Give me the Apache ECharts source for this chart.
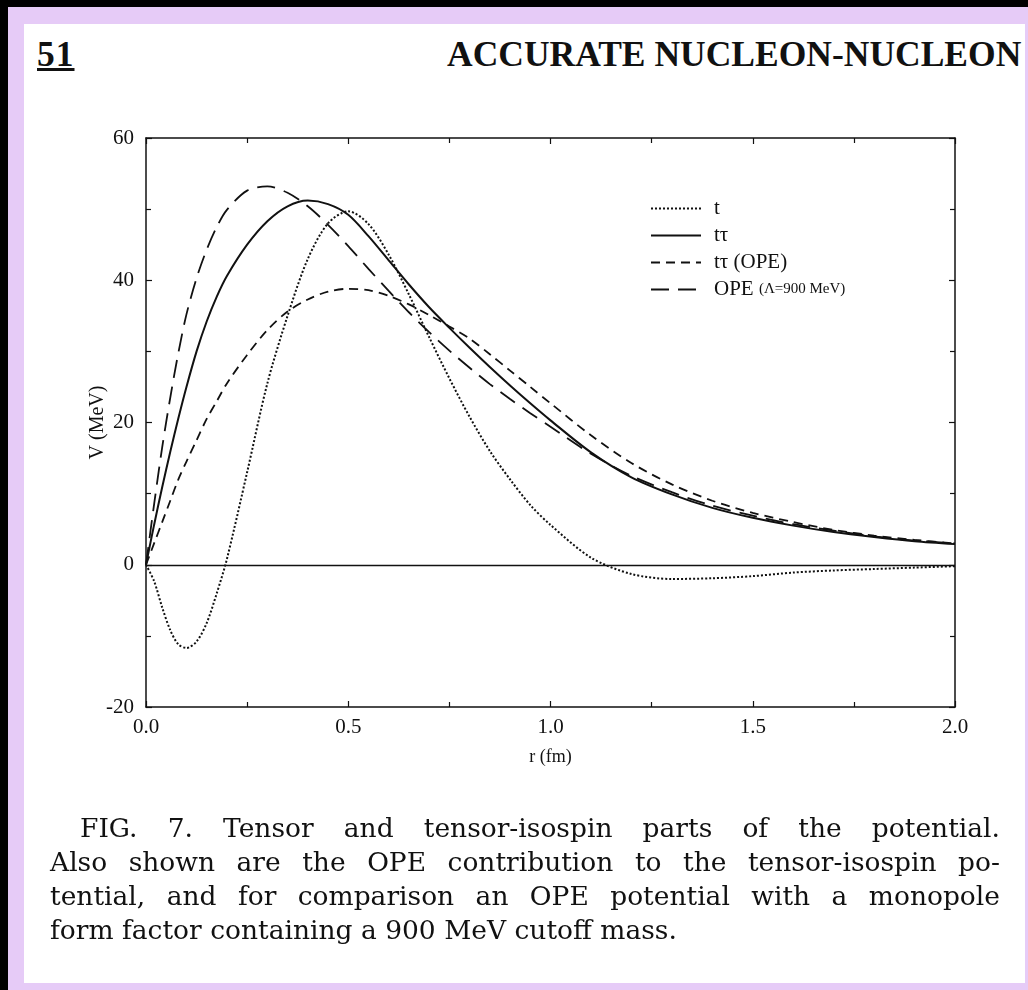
<!DOCTYPE html>
<html>
<head>
<meta charset="utf-8">
<script src="https://cdn.jsdelivr.net/npm/echarts@6/dist/echarts.min.js"></script>
<style>
  html, body { margin: 0; padding: 0; background: #000; }
  #frame { position: relative; width: 1028px; height: 990px; background: #000; overflow: hidden; }
  #lav { position: absolute; left: 8px; top: 7px; right: 0; bottom: 0; background: #e6cbf7; }
  #page { position: absolute; left: 24px; top: 24px; width: 1001px; height: 959px; background: #fff; }
  #chart { position: absolute; left: 0; top: 0; width: 1028px; height: 990px; }
  .hdr { position: absolute; font-family: 'Liberation Serif', serif; font-weight: bold; font-size: 35.5px; color: #111; white-space: nowrap; }
  .cap { position: absolute; left: 50px; width: 950px; font-family: 'DejaVu Serif', serif; font-size: 26.5px; color: #111; text-align: justify; text-align-last: justify; white-space: nowrap; }
</style>
</head>
<body>
<div id="frame">
  <div id="lav"></div>
  <div id="page"></div>
  <div class="hdr" style="left:37px; top:33px; text-decoration: underline; letter-spacing: 1px;">51</div>
  <div class="hdr" style="left:447px; top:33px;">ACCURATE NUCLEON-NUCLEON</div>
  <div id="chart"></div>
  <div class="cap" style="top:812px; left:80px; width:920px;">FIG. 7. Tensor and tensor-isospin parts of the potential.</div>
  <div class="cap" style="top:846px;">Also shown are the OPE contribution to the tensor-isospin po-</div>
  <div class="cap" style="top:880px;">tential, and for comparison an OPE potential with a monopole</div>
  <div class="cap" style="top:914px; text-align-last: left;">form factor containing a 900 MeV cutoff mass.</div>
</div>
<script>
// r (fm)
const rValues = [0, 0.02, 0.04, 0.06, 0.08, 0.1, 0.125, 0.15, 0.175, 0.2, 0.25, 0.3, 0.35, 0.4, 0.45, 0.5, 0.55, 0.6, 0.65, 0.7, 0.75, 0.8, 0.85, 0.9, 0.95, 1.0, 1.1, 1.2, 1.3, 1.4, 1.5, 1.6, 1.7, 1.8, 1.9, 2.0]
// V (MeV)
const tensor = [0, -2.3, -6, -9.2, -11.2, -11.7, -10.8, -8.2, -4, 0.8, 13, 25.5, 35, 43, 48, 49.7, 47.9, 43.6, 38, 32, 26.2, 20.8, 16, 12, 8.4, 5.6, 1.0, -1.3, -2.0, -1.9, -1.6, -1.1, -0.8, -0.6, -0.4, -0.2]
const tensorIsospin = [0, 5.6, 10.9, 15.9, 20.6, 25, 30, 34.2, 37.7, 40.6, 45, 48.3, 50.4, 51.2, 50.7, 49.2, 46.2, 42.8, 39.4, 36.2, 33.3, 30.5, 27.8, 25.2, 22.7, 20.3, 15.8, 12.3, 9.9, 8.0, 6.6, 5.5, 4.6, 3.9, 3.3, 2.9]
const tensorIsospinOPE = [0, 3, 6, 9, 12, 14.5, 17.5, 20.5, 23, 25.5, 29.5, 33, 35.6, 37.3, 38.4, 38.8, 38.6, 37.8, 36.6, 35.1, 33.5, 31.8, 29.6, 27.3, 25, 22.7, 18.2, 14.3, 11.3, 9.0, 7.3, 6.0, 4.9, 4.1, 3.5, 3.0]
const opeMonopole = [0, 8.5, 16.5, 23.5, 29.8, 35.2, 40.3, 44.3, 47.5, 49.9, 52.6, 53.2, 52.3, 50.4, 47.8, 44.8, 41.6, 38.5, 35.5, 32.7, 30.1, 27.7, 25.4, 23.3, 21.3, 19.4, 15.6, 12.5, 10.2, 8.3, 6.9, 5.7, 4.8, 4.0, 3.4, 3.0]

const xTicks = ['0.0', '0.5', '1.0', '1.5', '2.0']

const serif = 'Liberation Serif'
const chart = echarts.init(document.getElementById('chart'))

function pairs(arr) {
  return rValues.map((r, i) => [r, arr[i]])
}

function lineSeries(name, arr, type, width) {
  return {
    name: name,
    type: 'line',
    data: pairs(arr),
    symbol: 'none',
    smooth: 0.3,
    itemStyle: { color: '#111' },
    lineStyle: { color: '#111', width: width, type: type },
    z: 3
  }
}

const xBase = {
  type: 'value',
  min: 0,
  max: 2,
  interval: 0.5,
  axisLine: { onZero: false, lineStyle: { color: '#111', width: 1.5 } },
  axisTick: { inside: true, length: 6, lineStyle: { color: '#111', width: 1.2 } },
  minorTick: { show: true, splitNumber: 2, length: 5, lineStyle: { color: '#111', width: 1.2 } },
  splitLine: { show: false }
}
const yBase = {
  type: 'value',
  min: -20,
  max: 60,
  interval: 20,
  axisLine: { onZero: false, lineStyle: { color: '#111', width: 1.5 } },
  axisTick: { inside: true, length: 6, lineStyle: { color: '#111', width: 1.2 } },
  minorTick: { show: true, splitNumber: 2, length: 5, lineStyle: { color: '#111', width: 1.2 } },
  splitLine: { show: false }
}

chart.setOption({
  animation: false,
  grid: { left: 146, top: 138, width: 809, height: 569, containLabel: false },
  legend: {
    orient: 'vertical',
    left: 645,
    top: 193,
    itemWidth: 50,
    itemHeight: 12,
    itemGap: 6,
    itemStyle: { opacity: 0 },
    textStyle: { fontFamily: serif, fontSize: 21, color: '#111', lineHeight: 20, padding: [0, 0, 0, 8],
      rich: { s: { fontFamily: serif, fontSize: 15, color: '#111' } } },
    formatter: function (name) {
      return name === 'OPE (Λ=900 MeV)' ? 'OPE {s|(Λ=900 MeV)}' : name
    },
    data: ['t', 'tτ', 'tτ (OPE)', 'OPE (Λ=900 MeV)']
  },
  xAxis: [
    Object.assign({}, xBase, {
      position: 'bottom',
      name: 'r (fm)',
      nameLocation: 'middle',
      nameGap: 41,
      nameMoveOverlap: false,
      nameTextStyle: { fontFamily: serif, fontSize: 18, color: '#111' },
      axisLabel: {
        margin: 10, fontFamily: serif, fontSize: 21, color: '#111',
        formatter: function (v) { return xTicks[Math.round(v / 0.5)] }
      }
    }),
    Object.assign({}, xBase, { position: 'top', axisLabel: { show: false } })
  ],
  yAxis: [
    Object.assign({}, yBase, {
      position: 'left',
      name: 'V (MeV)',
      nameLocation: 'middle',
      nameGap: 38,
      nameMoveOverlap: false,
      nameRotate: 90,
      nameTextStyle: { fontFamily: serif, fontSize: 20, color: '#111' },
      axisLabel: { margin: 12, fontFamily: serif, fontSize: 21, color: '#111' }
    }),
    Object.assign({}, yBase, { position: 'right', axisLabel: { show: false } })
  ],
  series: [
    Object.assign(lineSeries('t', tensor, [2, 2], 2), {
      markLine: {
        silent: true,
        symbol: 'none',
        label: { show: false },
        lineStyle: { color: '#111', width: 1.3, type: 'solid' },
        data: [{ yAxis: 0 }]
      }
    }),
    lineSeries('tτ', tensorIsospin, 'solid', 2),
    lineSeries('tτ (OPE)', tensorIsospinOPE, [9, 6], 1.8),
    lineSeries('OPE (Λ=900 MeV)', opeMonopole, [18, 9], 1.8)
  ]
})
</script>
</body>
</html>
